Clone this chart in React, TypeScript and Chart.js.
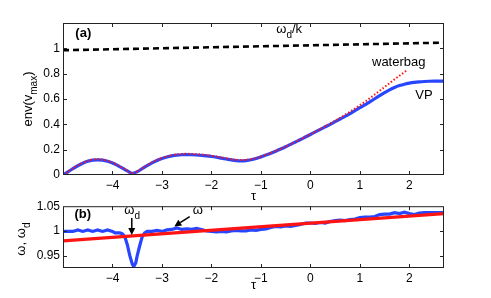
import React, { useEffect, useRef } from 'react';
import { Chart, registerables } from 'chart.js';

Chart.register(...registerables);

// ---------- data ----------
const tauTop = [
  -5.0, -4.9, -4.8, -4.7, -4.6, -4.5, -4.4, -4.3, -4.2, -4.1,
  -4.0, -3.9, -3.8, -3.7, -3.6, -3.5, -3.4, -3.3, -3.2, -3.1,
  -3.0, -2.9, -2.8, -2.7, -2.6, -2.5, -2.4, -2.3, -2.2, -2.1,
  -2.0, -1.9, -1.8, -1.7, -1.6, -1.5, -1.4, -1.3, -1.2, -1.1,
  -1.0, -0.9, -0.8, -0.7, -0.6, -0.5, -0.4, -0.3, -0.2, -0.1,
  0.0, 0.1, 0.2, 0.3, 0.4, 0.5, 0.6, 0.7, 0.8, 0.9,
  1.0, 1.1, 1.2, 1.3, 1.4, 1.5, 1.6, 1.7, 1.8, 1.9,
  2.0, 2.1, 2.2, 2.3, 2.4, 2.5, 2.6, 2.7,
];
const vpEnv = [
  0.000, 0.025, 0.050, 0.073, 0.093, 0.108, 0.117, 0.120, 0.117, 0.108,
  0.094, 0.076, 0.055, 0.033, 0.013, 0.026, 0.050, 0.074, 0.096, 0.115,
  0.130, 0.142, 0.151, 0.157, 0.160, 0.161, 0.160, 0.158, 0.155, 0.151,
  0.146, 0.140, 0.133, 0.126, 0.119, 0.114, 0.112, 0.114, 0.120, 0.130,
  0.143, 0.157, 0.172, 0.188, 0.205, 0.223, 0.242, 0.261, 0.280, 0.300,
  0.320, 0.340, 0.360, 0.380, 0.400, 0.421, 0.442, 0.463, 0.485, 0.508,
  0.531, 0.554, 0.578, 0.602, 0.626, 0.650, 0.672, 0.691, 0.706, 0.717,
  0.725, 0.731, 0.735, 0.738, 0.740, 0.741, 0.741, 0.741,
];
const waterbagTau = [
  -5.0, -4.9, -4.8, -4.7, -4.6, -4.5, -4.4, -4.3, -4.2, -4.1,
  -4.0, -3.9, -3.8, -3.7, -3.6, -3.5, -3.4, -3.3, -3.2, -3.1,
  -3.0, -2.9, -2.8, -2.7, -2.6, -2.5, -2.4, -2.3, -2.2, -2.1,
  -2.0, -1.9, -1.8, -1.7, -1.6, -1.5, -1.4, -1.3, -1.2, -1.1,
  -1.0, -0.9, -0.8, -0.7, -0.6, -0.5, -0.4, -0.3, -0.2, -0.1,
  0.0, 0.1, 0.2, 0.3, 0.4, 0.5, 0.6, 0.7, 0.8, 0.9,
  1.0, 1.1, 1.2, 1.3, 1.4, 1.5, 1.6, 1.7, 1.8, 1.9, 1.95,
];
const waterbagEnv = [
  0.000, 0.026, 0.052, 0.076, 0.096, 0.112, 0.121, 0.124, 0.121, 0.112,
  0.097, 0.079, 0.057, 0.035, 0.014, 0.028, 0.052, 0.077, 0.100, 0.119,
  0.134, 0.147, 0.156, 0.162, 0.166, 0.167, 0.166, 0.164, 0.161, 0.157,
  0.152, 0.146, 0.139, 0.132, 0.125, 0.120, 0.118, 0.120, 0.125, 0.134,
  0.146, 0.159, 0.174, 0.190, 0.207, 0.225, 0.244, 0.263, 0.282, 0.302,
  0.322, 0.343, 0.364, 0.385, 0.406, 0.428, 0.451, 0.475, 0.500, 0.525,
  0.551, 0.578, 0.606, 0.635, 0.665, 0.695, 0.725, 0.755, 0.784, 0.812, 0.826,
];
const wdkTau = [-5.0, 2.7];
const wdkVal = [0.985, 1.045];

const omegaTau = [
  -5.0, -4.9, -4.8, -4.7, -4.6, -4.5, -4.4, -4.3, -4.2, -4.1, -4.0,
  -3.95, -3.85, -3.8, -3.75, -3.7, -3.65, -3.6, -3.57, -3.53, -3.5,
  -3.45, -3.4, -3.35, -3.3, -3.2, -3.1, -3.0, -2.9, -2.8, -2.7,
  -2.6, -2.5, -2.4, -2.3, -2.2, -2.1, -2.0, -1.9, -1.8, -1.7,
  -1.6, -1.5, -1.4, -1.3, -1.2, -1.1, -1.0, -0.9, -0.8, -0.7,
  -0.6, -0.5, -0.4, -0.3, -0.2, -0.1, 0.0, 0.1, 0.2, 0.3,
  0.4, 0.5, 0.6, 0.7, 0.8, 0.9, 1.0, 1.1, 1.2, 1.3,
  1.4, 1.5, 1.6, 1.7, 1.8, 1.9, 2.0, 2.1, 2.2, 2.3,
  2.4, 2.5, 2.6, 2.7,
];
const omegaVal = [
  0.999, 0.999, 0.999, 1.002, 0.999, 1.002, 0.999, 1.002, 0.999, 1.002, 0.999,
  0.996, 0.996, 0.994, 0.988, 0.972, 0.950, 0.933, 0.928, 0.935, 0.950,
  0.970, 0.988, 0.996, 0.999, 0.999, 1.001, 0.999, 1.002, 1.003, 1.006,
  1.003, 1.004, 1.003, 1.005, 1.003, 1.000, 0.999, 0.998, 0.999, 0.998,
  1.000, 1.001, 1.000, 1.000, 1.002, 1.001, 1.003, 1.004, 1.007, 1.009,
  1.008, 1.010, 1.009, 1.011, 1.013, 1.016, 1.016, 1.015, 1.017, 1.016,
  1.019, 1.021, 1.022, 1.021, 1.023, 1.024, 1.027, 1.028, 1.028, 1.029,
  1.033, 1.034, 1.034, 1.037, 1.035, 1.038, 1.035, 1.033, 1.036, 1.037,
  1.037, 1.037, 1.037, 1.037,
];
const omegaDTau = [-5.0, 2.7];
const omegaDVal = [0.98, 1.035];

const xTicks = [-4, -3, -2, -1, 0, 1, 2];
const yTopTicks = [0, 0.2, 0.4, 0.6, 0.8, 1];
const yBotTicks = [0.95, 1, 1.05];

// ---------- helpers ----------
const FONT = '"Liberation Sans", Arial, Helvetica, sans-serif';
const BLUE = 'rgb(40,70,255)';
const RED = 'rgb(255,20,20)';

const pts = (xs: number[], ys: number[]) => xs.map((x, i) => ({ x, y: ys[i] }));
const fmt = (v: any) => String(v).replace('-', '\u2212');

function subText(ctx: CanvasRenderingContext2D, x: number, y: number, main: string, sub: string, rest: string, size: number, align: 'left' | 'center' = 'left') {
  const subSize = Math.round(size * 0.78);
  ctx.font = `${size}px ${FONT}`;
  const w1 = ctx.measureText(main).width;
  const w3 = ctx.measureText(rest).width;
  ctx.font = `${subSize}px ${FONT}`;
  const w2 = ctx.measureText(sub).width;
  let x0 = x;
  if (align === 'center') x0 = x - (w1 + w2 + w3) / 2;
  ctx.textBaseline = 'alphabetic';
  ctx.textAlign = 'left';
  ctx.font = `${size}px ${FONT}`;
  ctx.fillText(main, x0, y);
  ctx.font = `${subSize}px ${FONT}`;
  ctx.fillText(sub, x0 + w1, y + size * 0.35);
  ctx.font = `${size}px ${FONT}`;
  ctx.fillText(rest, x0 + w1 + w2, y);
}

function arrow(ctx: CanvasRenderingContext2D, x1: number, y1: number, x2: number, y2: number) {
  const head = 7, hw = 3.5;
  const a = Math.atan2(y2 - y1, x2 - x1);
  const bx = x2 - head * Math.cos(a), by = y2 - head * Math.sin(a);
  ctx.lineWidth = 1.5;
  ctx.beginPath();
  ctx.moveTo(x1, y1);
  ctx.lineTo(bx, by);
  ctx.stroke();
  ctx.beginPath();
  ctx.moveTo(x2, y2);
  ctx.lineTo(bx + hw * Math.sin(a), by - hw * Math.cos(a));
  ctx.lineTo(bx - hw * Math.sin(a), by + hw * Math.cos(a));
  ctx.closePath();
  ctx.fill();
}

function decor(xT: number[], yT: number[], draw: (ctx: CanvasRenderingContext2D, chart: any) => void) {
  return {
    id: 'decor',
    afterDraw(chart: any) {
      const { ctx, chartArea: a, scales } = chart;
      ctx.save();
      ctx.strokeStyle = '#222';
      ctx.lineWidth = 1;
      ctx.strokeRect(a.left + 0.5, a.top + 0.5, a.right - a.left - 1, a.bottom - a.top - 1);
      const tl = 4;
      ctx.beginPath();
      xT.forEach((v) => {
        const p = Math.round(scales.x.getPixelForValue(v)) + 0.5;
        ctx.moveTo(p, a.bottom); ctx.lineTo(p, a.bottom - tl);
        ctx.moveTo(p, a.top); ctx.lineTo(p, a.top + tl);
      });
      yT.forEach((v) => {
        const p = Math.round(scales.y.getPixelForValue(v)) + 0.5;
        if (p < a.top + 2 || p > a.bottom - 2) return;
        ctx.moveTo(a.left, p); ctx.lineTo(a.left + tl, p);
        ctx.moveTo(a.right, p); ctx.lineTo(a.right - tl, p);
      });
      ctx.stroke();
      ctx.fillStyle = '#000';
      ctx.strokeStyle = '#000';
      draw(ctx, chart);
      ctx.restore();
    },
  };
}

function baseScales(ymin: number, ymax: number, yT: number[], xHeight: number) {
  return {
    x: {
      type: 'linear', min: -5, max: 2.7,
      afterBuildTicks: (s: any) => { s.ticks = xTicks.map((v) => ({ value: v })); },
      afterFit: (s: any) => { s.height = xHeight; },
      grid: { display: false, drawTicks: false },
      border: { display: false },
      ticks: { padding: 3, color: '#000', font: { family: FONT, size: 12 }, callback: fmt, maxRotation: 0 },
    },
    y: {
      type: 'linear', min: ymin, max: ymax,
      afterBuildTicks: (s: any) => { s.ticks = yT.map((v) => ({ value: v })); },
      afterFit: (s: any) => { s.width = 63; },
      grid: { display: false, drawTicks: false },
      border: { display: false },
      ticks: { padding: 3, color: '#000', font: { family: FONT, size: 12 }, callback: fmt },
    },
  };
}

function topConfig(): any {
  return {
    type: 'line',
    data: {
      datasets: [
        { data: pts(waterbagTau, waterbagEnv), borderColor: RED, borderWidth: 2, borderDash: [1.5, 2], pointRadius: 0, cubicInterpolationMode: 'monotone', order: 0 },
        { data: pts(tauTop, vpEnv), borderColor: BLUE, borderWidth: 3.2, pointRadius: 0, cubicInterpolationMode: 'monotone', order: 1 },
        { data: pts(wdkTau, wdkVal), borderColor: '#000', borderWidth: 2.6, borderDash: [6, 4], pointRadius: 0, order: 2 },
      ],
    },
    options: {
      responsive: false, animation: false, maintainAspectRatio: false,
      layout: { padding: { top: 23, right: 47, left: 0, bottom: 0 } },
      plugins: { legend: { display: false }, tooltip: { enabled: false } },
      scales: baseScales(0, 1.2, yTopTicks, 29),
      events: [],
    },
    plugins: [decor(xTicks, yTopTicks, (ctx, chart) => {
      const { chartArea: a, scales } = chart;
      const X = (v: number) => scales.x.getPixelForValue(v);
      const Y = (v: number) => scales.y.getPixelForValue(v);
      ctx.textAlign = 'left';
      ctx.textBaseline = 'middle';
      ctx.font = `bold 13px ${FONT}`;
      ctx.fillText('(a)', X(-4.75), Y(1.12));
      ctx.font = `13px ${FONT}`;
      ctx.fillText('waterbag', X(1.245), Y(0.889));
      ctx.fillText('VP', X(2.12), Y(0.631));
      subText(ctx, X(-0.69), Y(1.12), '\u03c9', 'd', '/k', 13);
      // x title
      ctx.textAlign = 'center';
      ctx.textBaseline = 'alphabetic';
      ctx.font = `13px ${FONT}`;
      ctx.fillText('\u03c4', (a.left + a.right) / 2, 200);
      // y title
      ctx.save();
      ctx.translate(32, (a.top + a.bottom) / 2);
      ctx.rotate(-Math.PI / 2);
      subText(ctx, 0, 0, 'env(v', 'max', ')', 13, 'center');
      ctx.restore();
    })],
  };
}

function bottomConfig(): any {
  return {
    type: 'line',
    data: {
      datasets: [
        { data: pts(omegaDTau, omegaDVal), borderColor: RED, borderWidth: 3.2, pointRadius: 0, order: 0 },
        { data: pts(omegaTau, omegaVal), borderColor: BLUE, borderWidth: 3.2, pointRadius: 0, order: 1 },
      ],
    },
    options: {
      responsive: false, animation: false, maintainAspectRatio: false,
      layout: { padding: { top: 8, right: 47, left: 0, bottom: 0 } },
      plugins: { legend: { display: false }, tooltip: { enabled: false } },
      scales: baseScales(0.925, 1.05, yBotTicks, 30),
      events: [],
    },
    plugins: [decor(xTicks, yBotTicks, (ctx, chart) => {
      const { chartArea: a, scales } = chart;
      const X = (v: number) => scales.x.getPixelForValue(v);
      const Y = (v: number) => scales.y.getPixelForValue(v);
      ctx.textAlign = 'left';
      ctx.textBaseline = 'middle';
      ctx.font = `bold 13px ${FONT}`;
      ctx.fillText('(b)', X(-4.77), Y(1.0327));
      subText(ctx, X(-3.76), Y(1.034), '\u03c9', 'd', '', 13);
      arrow(ctx, X(-3.61), Y(1.026), X(-3.61), Y(0.992));
      ctx.font = `13px ${FONT}`;
      ctx.textBaseline = 'alphabetic';
      ctx.fillText('\u03c9', X(-2.38), Y(1.034));
      arrow(ctx, X(-2.44), Y(1.029), X(-2.75), Y(1.009));
      // x title
      ctx.textAlign = 'center';
      ctx.font = `13px ${FONT}`;
      ctx.fillText('\u03c4', (a.left + a.right) / 2, 93);
      // y title
      ctx.save();
      ctx.translate(25, (a.top + a.bottom) / 2 + 2);
      ctx.rotate(-Math.PI / 2);
      subText(ctx, 0, 0, '\u03c9, \u03c9', 'd', '', 13, 'center');
      ctx.restore();
    })],
  };
}

function Panel({ top, height, make }: { top: number; height: number; make: () => any }) {
  const ref = useRef<HTMLCanvasElement>(null);
  useEffect(() => {
    const chart = new Chart(ref.current as HTMLCanvasElement, make());
    return () => chart.destroy();
  }, []);
  return (
    <canvas
      ref={ref}
      width={491}
      height={height}
      style={{ position: 'absolute', left: 0, top, width: 491, height, display: 'block' }}
    />
  );
}

export default function App() {
  return (
    <div style={{ position: 'fixed', left: 0, top: 0, width: 491, height: 298, background: '#fff', overflow: 'hidden' }}>
      <Panel top={0} height={204} make={topConfig} />
      <Panel top={196} height={102} make={bottomConfig} />
    </div>
  );
}
